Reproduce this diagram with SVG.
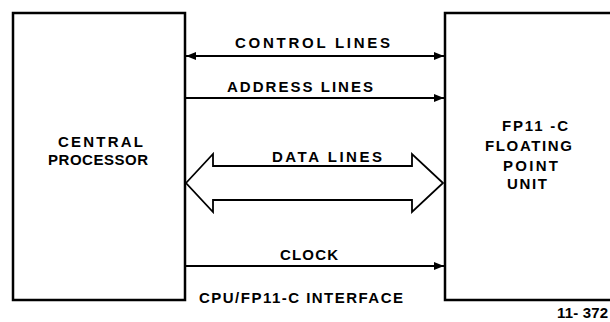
<svg xmlns="http://www.w3.org/2000/svg" width="610" height="322" viewBox="0 0 610 322">
<style>
.box{fill:none;stroke:#000;stroke-width:2.5}
.ln{fill:none;stroke:#000;stroke-width:1.8}
.t{font-family:"Liberation Sans",Arial,sans-serif;font-size:15px;font-weight:bold;fill:#000}
</style>
<defs>
<marker id="ah" viewBox="0 0 10 8" refX="10" refY="4" markerWidth="10" markerHeight="8" markerUnits="userSpaceOnUse" orient="auto-start-reverse">
<path d="M0,0 L10,4 L0,8 z" fill="#000"/>
</marker>
</defs>
<rect width="610" height="322" fill="#fff"/>
<g id="cpu">
<rect class="box" x="13" y="13" width="172" height="287"/>
<text class="t" x="58" y="147" textLength="85" lengthAdjust="spacing">CENTRAL</text>
<text class="t" x="48" y="165" textLength="100" lengthAdjust="spacing">PROCESSOR</text>
</g>
<g id="fpu">
<path class="box" d="M614,13 H445 V300 H614"/>
<text class="t" x="502" y="131" textLength="66" lengthAdjust="spacing">FP11 -C</text>
<text class="t" x="485" y="151" textLength="87" lengthAdjust="spacing">FLOATING</text>
<text class="t" x="503" y="171" textLength="55" lengthAdjust="spacing">POINT</text>
<text class="t" x="507" y="189" textLength="40" lengthAdjust="spacing">UNIT</text>
</g>
<g id="connectors">
<line class="ln" x1="186" y1="56" x2="444" y2="56" marker-start="url(#ah)" marker-end="url(#ah)"/>
<line class="ln" x1="185" y1="98" x2="444" y2="98" marker-end="url(#ah)"/>
<polygon class="ln" stroke-width="2" points="186,183 213,154 213,166 412,166 412,154 443,183 412,212 412,200 213,200 213,212"/>
<line class="ln" x1="185" y1="266" x2="444" y2="266" marker-end="url(#ah)"/>
</g>
<g id="labels">
<text class="t" x="235" y="48" textLength="155" lengthAdjust="spacing">CONTROL  LINES</text>
<text class="t" x="227" y="92" textLength="146" lengthAdjust="spacing">ADDRESS LINES</text>
<text class="t" x="272" y="162" textLength="110" lengthAdjust="spacing">DATA  LINES</text>
<text class="t" x="280" y="260" textLength="58" lengthAdjust="spacing">CLOCK</text>
<text class="t" x="199" y="303" textLength="204" lengthAdjust="spacing">CPU/FP11-C INTERFACE</text>
<text class="t" x="557" y="318" font-size="11" textLength="51" lengthAdjust="spacing">11- 372</text>
</g>
</svg>
